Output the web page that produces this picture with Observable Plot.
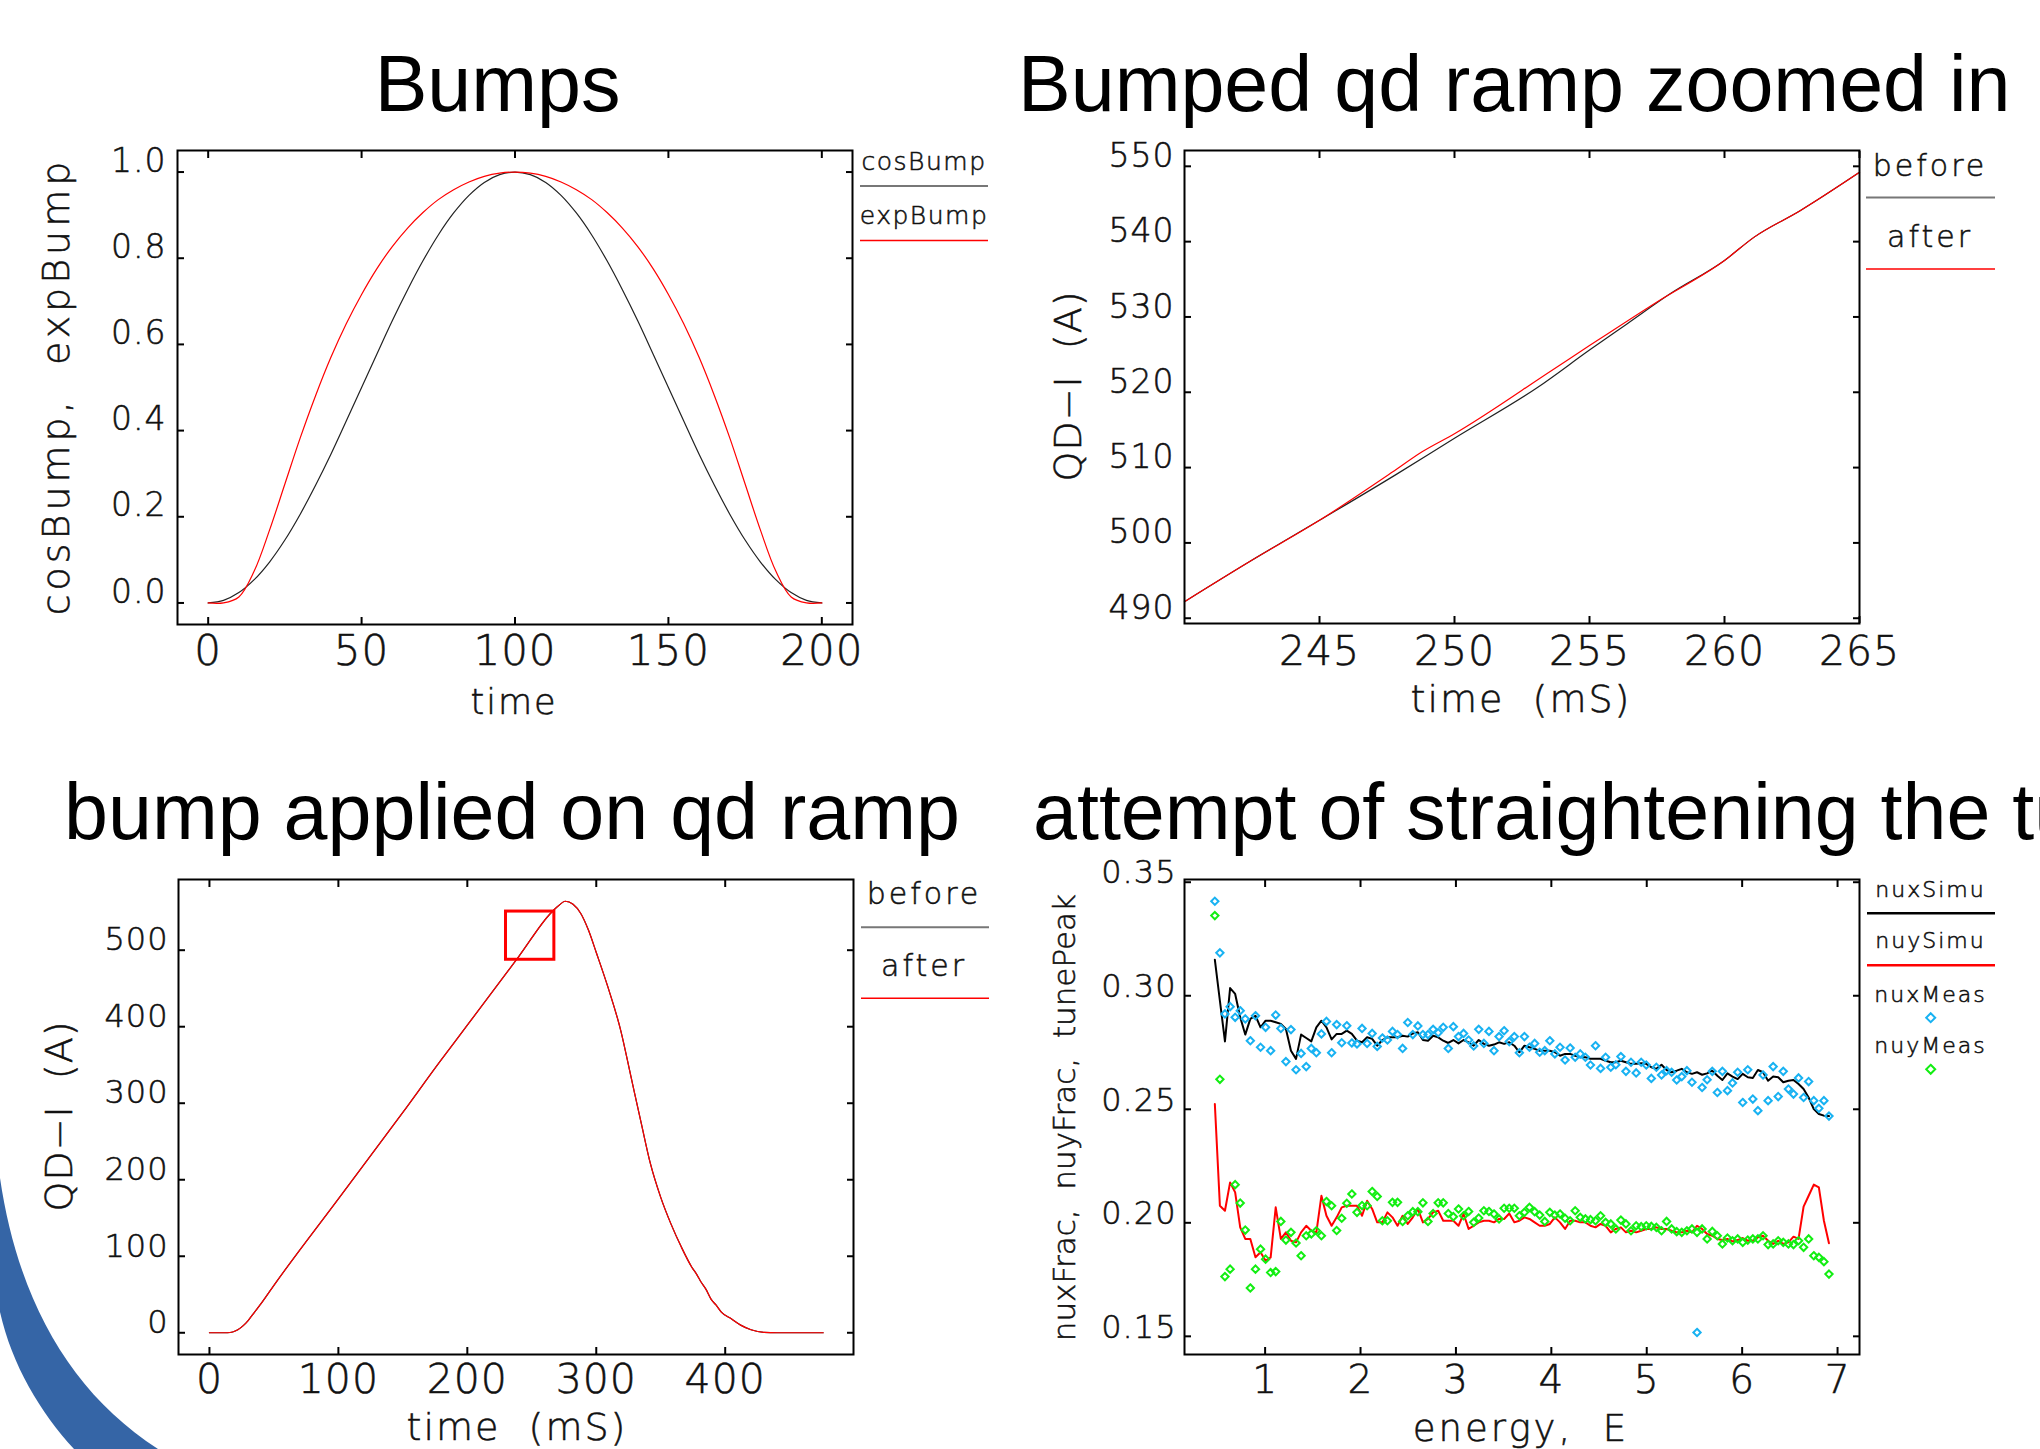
<!DOCTYPE html>
<html>
<head>
<meta charset="utf-8">
<script src="https://cdn.jsdelivr.net/npm/d3@7"></script>
<script src="https://cdn.jsdelivr.net/npm/@observablehq/plot@0.6"></script>
<style>
html, body { margin: 0; padding: 0; background: #fff; }
#page { position: relative; width: 2040px; height: 1449px; overflow: hidden; background: #fff; }
#page svg { position: absolute; }
#page svg.thin text, #page text.thin { font-weight: 200; stroke: #111; stroke-width: 0.55px; }
</style>
</head>
<body>
<div id="page"></div>
<script>
// ---------------- DATA ----------------
// Panel 1: Bumps
const bumpTime = [0,5,10,15,20,25,30,35,40,45,50,55,60,65,70,75,80,85,90,95,100,105,110,115,120,125,130,135,140,145,150,155,160,165,170,175,180,185,190,195,200];
const cosBump = [0,0.006,0.024,0.054,0.095,0.146,0.206,0.273,0.345,0.422,0.5,0.578,0.655,0.727,0.794,0.854,0.905,0.946,0.976,0.994,1.0,0.994,0.976,0.946,0.905,0.854,0.794,0.727,0.655,0.578,0.5,0.422,0.345,0.273,0.206,0.146,0.095,0.054,0.024,0.006,0];
const expBump = [0,0.0002,0.014,0.074,0.169,0.276,0.383,0.481,0.570,0.648,0.716,0.776,0.827,0.870,0.906,0.936,0.959,0.977,0.990,0.9975,1.0,0.9975,0.990,0.977,0.959,0.936,0.906,0.870,0.827,0.776,0.716,0.648,0.570,0.481,0.383,0.276,0.169,0.074,0.014,0.0002,0];
const bumpXTicks = [0,50,100,150,200];
const bumpYTicks = [0,0.2,0.4,0.6,0.8,1.0];

// Panel 2: Bumped qd ramp zoomed in
const zoomAfterTime = [240,242.4,245,247.7,248.8,250,253.6,255,257.5,260,261.1,262.8,265];
const zoomAfterQd   = [492.2,497.5,503.0,509.4,512.1,514.5,522.9,526.2,532.0,537.5,540.6,544.1,549.2];
const zoomBeforeTime = [240,242.4,245,247.8,250,253.1,255,256.4,258,260,261.1,262.8,265];
const zoomBeforeQd   = [492.2,497.5,503.0,509.0,513.9,520.7,525.6,529.1,533.1,537.5,540.6,544.1,549.2];
const zoomXTicks = [245,250,255,260,265];
const zoomYTicks = [490,500,510,520,530,540,550];

// Panel 3: bump applied on qd ramp
const rampTime = [0,10,14,18,22,26,30,35,40,50,100,150,179,200,240,265,270,276,282,288,294,300,309,319,327,335,342,350,358,366,374,378,381,385,389,393,397,405,412,420,430,440,476];
const rampQd   = [0,0,0,1,4,9,16,27,38,62,175,288,355,402,492,549,557,564,560,548,526,497,452,395,334,273,221,177,142,112,86,76,67,57,44,36,27,18,10,4,0.5,0,0];
const zoomBox = [{x1: 230, x2: 267.5, y1: 487.5, y2: 550.5}];
const rampXTicks = [0,100,200,300,400];
const rampYTicks = [0,100,200,300,400,500];

// Panel 4: tunes vs energy
const energy = [0.473,0.526,0.579,0.633,0.686,0.739,0.792,0.845,0.899,0.952,1.005,1.058,1.111,1.165,1.218,1.271,1.324,1.377,1.431,1.484,1.537,1.590,1.643,1.697,1.750,1.803,1.856,1.909,1.963,2.016,2.069,2.122,2.175,2.229,2.282,2.335,2.388,2.441,2.495,2.548,2.601,2.654,2.707,2.761,2.814,2.867,2.920,2.973,3.027,3.080,3.133,3.186,3.239,3.293,3.346,3.399,3.452,3.505,3.559,3.612,3.665,3.718,3.771,3.825,3.878,3.931,3.984,4.037,4.091,4.144,4.197,4.250,4.303,4.357,4.410,4.463,4.516,4.569,4.623,4.676,4.729,4.782,4.835,4.889,4.942,4.995,5.048,5.101,5.155,5.208,5.261,5.314,5.367,5.421,5.474,5.527,5.580,5.633,5.687,5.740,5.793,5.846,5.899,5.953,6.006,6.059,6.112,6.165,6.219,6.272,6.325,6.378,6.431,6.485,6.538,6.591,6.644,6.697,6.751,6.804,6.857,6.910];
const nuxSimu = [0.3159,0.2978,0.2799,0.3034,0.3008,0.2905,0.2829,0.2898,0.2912,0.2861,0.2890,0.2890,0.2883,0.2876,0.2854,0.2758,0.2722,0.2829,0.2814,0.2799,0.2861,0.2890,0.2861,0.2808,0.2832,0.2832,0.2846,0.2832,0.2802,0.2795,
0.2817,0.2810,0.2780,0.2805,0.2817,0.2817,0.2817,0.2824,0.2820,0.2834,0.2839,0.2805,0.2802,0.2824,0.2817,0.2802,0.2792,0.2805,0.2790,0.2805,0.2795,0.2780,0.2805,0.2788,0.2780,0.2785,0.2795,0.2788,0.2795,0.2780,0.2751,0.2780,0.2773,
0.2766,0.2758,0.2758,0.2758,0.2751,0.2736,0.2744,0.2744,0.2736,0.2729,0.2729,0.2722,0.2722,0.2722,0.2714,0.2707,0.2707,0.2714,0.2707,0.2700,0.2700,0.2703,0.2700,0.2685,0.2678,0.2696,0.2673,0.2663,0.2670,0.2678,0.2663,0.2656,
0.2663,0.2652,0.2658,0.2670,0.2648,0.2629,0.2658,0.2644,0.2633,0.2656,0.2641,0.2638,0.2673,0.2663,0.2626,0.2644,0.2641,0.2619,0.2626,0.2629,0.2611,0.2589,0.2552,0.2501,0.2479,0.2472,0.2470];
const nuySimu = [0.2523,0.2075,0.2053,0.2178,0.2134,0.1980,0.1929,0.1929,0.1848,0.1870,0.1833,0.1848,0.2068,0.1929,0.1958,0.1921,0.1914,0.1958,0.1987,0.1965,0.1958,0.2119,0.2031,0.1987,0.2024,0.2068,0.2075,0.2075,0.2075,0.2031,
0.2097,0.2061,0.2002,0.2002,0.2046,0.2024,0.1987,0.2031,0.1995,0.2024,0.2061,0.2002,0.2017,0.2046,0.2053,0.2009,0.2009,0.2009,0.1987,0.2039,0.1973,0.1987,0.2002,0.2009,0.2009,0.2002,0.2017,0.2017,0.2041,0.2002,0.2009,0.2024,0.2017,
0.2002,0.1987,0.1987,0.1995,0.2024,0.2002,0.1973,0.2009,0.2009,0.2002,0.2002,0.1987,0.1980,0.1995,0.1987,0.1958,0.1973,0.1980,0.1958,0.1965,0.1958,0.1965,0.1973,0.1973,0.1980,0.1973,0.1973,0.1965,0.1958,0.1958,0.1965,0.1958,
0.1987,0.1973,0.1951,0.1943,0.1929,0.1924,0.1929,0.1918,0.1924,0.1933,0.1921,0.1921,0.1936,0.1943,0.1921,0.1907,0.1921,0.1907,0.1914,0.1939,0.1929,0.2071,0.2119,0.2168,0.2156,0.2009,0.1910];
const nuxMeas = [0.3416,0.3189,0.2920,0.2952,0.2905,0.2934,0.2898,0.2802,0.2912,0.2773,0.2861,0.2758,0.2915,0.2856,0.2710,0.2851,0.2674,0.2746,0.2688,0.2768,0.2749,0.2832,0.2887,0.2749,0.2873,0.2793,0.2868,0.2792,0.2788,0.2856,
0.2790,0.2834,0.2777,0.2814,0.2805,0.2843,0.2829,0.2768,0.2882,0.2829,0.2867,0.2829,0.2829,0.2852,0.2837,0.2861,0.2768,0.2864,0.2820,0.2834,0.2805,0.2779,0.2852,0.2790,0.2843,0.2758,0.2820,0.2846,0.2798,0.2820,0.2749,0.2820,0.2773,
0.2790,0.2751,0.2758,0.2802,0.2744,0.2773,0.2717,0.2770,0.2729,0.2744,0.2729,0.2695,0.2780,0.2680,0.2729,0.2685,0.2696,0.2732,0.2667,0.2707,0.2660,0.2707,0.2695,0.2636,0.2685,0.2651,0.2670,0.2663,0.2629,0.2644,0.2670,0.2619,
0.1517,0.2596,0.2630,0.2667,0.2574,0.2667,0.2582,0.2616,0.2663,0.2530,0.2674,0.2545,0.2494,0.2651,0.2538,0.2688,0.2556,0.2667,0.2589,0.2567,0.2638,0.2552,0.2622,0.2538,0.2504,0.2538,0.2470];
const nuyMeas = [0.3353,0.2632,0.1763,0.1796,0.2168,0.2087,0.1968,0.1713,0.1796,0.1884,0.1840,0.1781,0.1785,0.2006,0.1924,0.1958,0.1911,0.1855,0.1943,0.1951,0.1965,0.1943,0.2094,0.2075,0.1966,0.2020,0.2086,0.2127,0.2046,0.2076,
0.2075,0.2138,0.2116,0.2009,0.2009,0.2090,0.2090,0.2006,0.2031,0.2049,0.2049,0.2088,0.2006,0.2041,0.2088,0.2088,0.2041,0.2027,0.2061,0.2031,0.2050,0.2002,0.2021,0.2053,0.2050,0.2039,0.2017,0.2064,0.2064,0.2064,0.2031,0.2046,0.2068,
0.2049,0.2034,0.2006,0.2046,0.2034,0.2039,0.2020,0.2009,0.2053,0.2024,0.2017,0.2014,0.2009,0.2031,0.2002,0.1995,0.1973,0.2012,0.1995,0.1965,0.1987,0.1983,0.1987,0.1984,0.1980,0.1965,0.2006,0.1973,0.1961,0.1958,0.1965,0.1973,
0.1958,0.1973,0.1929,0.1962,0.1943,0.1907,0.1933,0.1921,0.1929,0.1914,0.1924,0.1929,0.1929,0.1943,0.1904,0.1907,0.1921,0.1914,0.1907,0.1904,0.1921,0.1892,0.1929,0.1855,0.1848,0.1829,0.1774];
const tuneXTicks = [1,2,3,4,5,6,7];
const tuneYTicks = [0.15,0.20,0.25,0.30,0.35];

// ---------------- RENDER ----------------
const page = document.getElementById("page");
const THIN = "'DejaVu Sans', sans-serif";
const RED = "#ff0000", BLUE = "#18b2f2", GREEN = "#12ee12";

// decorative slide swoosh (background)
const deco = d3.select(page).append("svg").attr("width", 2040).attr("height", 1449).style("left", "0px").style("top", "0px");
deco.append("path").attr("d", "M0,1178 C18,1300 70,1392 158,1449 L74,1449 C40,1412 12,1365 0,1312 Z").attr("fill", "#3565a6");

function makePanel(o) {
  const svg = Plot.plot({
    width: o.w, height: o.h,
    marginLeft: o.ml, marginRight: o.mr, marginTop: o.mt, marginBottom: o.mb,
    x: {domain: o.xDomain},
    y: {domain: o.yDomain},
    style: {fontFamily: THIN, background: "transparent", color: "#000", overflow: "visible", maxWidth: "none", letterSpacing: "1px"},
    marks: [
      ...o.marks,
      Plot.frame({stroke: "#000", strokeWidth: 2}),
      Plot.axisX({ticks: o.xTicks, anchor: "bottom", tickSize: -7, strokeWidth: 2, fill: "none", label: null}),
      Plot.axisX({ticks: o.xTicks, anchor: "top", tickSize: -7, strokeWidth: 2, fill: "none", label: null}),
      Plot.axisY({ticks: o.yTicks, anchor: "left", tickSize: -7, strokeWidth: 2, fill: "none", label: null}),
      Plot.axisY({ticks: o.yTicks, anchor: "right", tickSize: -7, strokeWidth: 2, fill: "none", label: null}),
      Plot.axisX({ticks: o.xTicks, anchor: "bottom", tickSize: 0, tickPadding: o.xPad, tickFormat: o.xFmt, fontSize: o.xFont, fill: "#111", label: null}),
      Plot.axisY({ticks: o.yTicks, anchor: "left", tickSize: 0, tickPadding: o.yPad, tickFormat: o.yFmt, fontSize: o.yFont, dy: o.yDy, fill: "#111", label: null})
    ]
  });
  svg.classList.add("thin");
  svg.style.left = o.left + "px";
  svg.style.top = o.top + "px";
  page.appendChild(svg);
}

// Panel 1
const bumpRows = bumpTime.map((t, i) => ({t, cos: cosBump[i], exp: expBump[i]}));
makePanel({
  left: 0, top: 0, w: 1020, h: 730, ml: 177, mr: 168, mt: 150, mb: 106,
  xDomain: [-10, 210], yDomain: [-0.05, 1.05], xTicks: bumpXTicks, yTicks: bumpYTicks,
  xFmt: d => String(d), yFmt: d => d.toFixed(1), xFont: 42, yFont: 33, xPad: 11, yPad: 11, yDy: -11,
  marks: [
    Plot.line(bumpRows, {x: "t", y: "cos", stroke: "#222", strokeWidth: 1.2, curve: "catmull-rom"}),
    Plot.line(bumpRows, {x: "t", y: "exp", stroke: RED, strokeWidth: 1.2, curve: "catmull-rom"})
  ]
});

// Panel 2
const zBefore = zoomBeforeTime.map((t, i) => ({t, v: zoomBeforeQd[i]}));
const zAfter = zoomAfterTime.map((t, i) => ({t, v: zoomAfterQd[i]}));
makePanel({
  left: 1020, top: 0, w: 1020, h: 730, ml: 164, mr: 181, mt: 150, mb: 107,
  xDomain: [240, 265], yDomain: [489.3, 552.1], xTicks: zoomXTicks, yTicks: zoomYTicks,
  xFmt: d => String(d), yFmt: d => String(d), xFont: 41, yFont: 33, xPad: 12, yPad: 10, yDy: -10,
  marks: [
    Plot.line(zBefore, {x: "t", y: "v", stroke: "#222", strokeWidth: 1.2, curve: "monotone-x"}),
    Plot.line(zAfter, {x: "t", y: "v", stroke: RED, strokeWidth: 1.2, curve: "monotone-x"})
  ]
});

// Panel 3
const rampRows = rampTime.map((t, i) => ({t, v: rampQd[i]}));
makePanel({
  left: 0, top: 730, w: 1020, h: 719, ml: 178, mr: 167, mt: 149, mb: 95,
  xDomain: [-24, 499.5], yDomain: [-28.4, 592.4], xTicks: rampXTicks, yTicks: rampYTicks,
  xFmt: d => String(d), yFmt: d => String(d), xFont: 41, yFont: 32, xPad: 9, yPad: 10, yDy: -10,
  marks: [
    Plot.line(rampRows, {x: "t", y: "v", stroke: "#222", strokeWidth: 1.2, curve: "monotone-x"}),
    Plot.line(rampRows, {x: "t", y: "v", stroke: RED, strokeWidth: 1.2, curve: "monotone-x"}),
    Plot.rect(zoomBox, {x1: "x1", x2: "x2", y1: "y1", y2: "y2", stroke: RED, strokeWidth: 3, fill: "none"})
  ]
});

// Panel 4
const tuneRows = energy.map((e, i) => ({e, nxs: nuxSimu[i], nys: nuySimu[i], nxm: nuxMeas[i], nym: nuyMeas[i]}));
makePanel({
  left: 1020, top: 730, w: 1020, h: 719, ml: 164, mr: 181, mt: 149, mb: 95,
  xDomain: [0.155, 7.23], yDomain: [0.142, 0.3512], xTicks: tuneXTicks, yTicks: tuneYTicks,
  xFont: 39, yFont: 32, xPad: 11, yPad: 8, yDy: -9,
  xFmt: d => String(d), yFmt: d => d.toFixed(2),
  marks: [
    Plot.line(tuneRows, {x: "e", y: "nxs", stroke: "#000", strokeWidth: 2}),
    Plot.line(tuneRows, {x: "e", y: "nys", stroke: RED, strokeWidth: 2}),
    Plot.dot(tuneRows, {x: "e", y: "nxm", symbol: "diamond2", r: 3.3, stroke: BLUE, strokeWidth: 2, fill: "none"}),
    Plot.dot(tuneRows, {x: "e", y: "nym", symbol: "diamond2", r: 3.3, stroke: GREEN, strokeWidth: 2, fill: "none"})
  ]
});

// ---------------- TEXT OVERLAY (titles, axis titles, legends) ----------------
const ov = d3.select(page).append("svg").attr("width", 2040).attr("height", 1449).style("left", "0px").style("top", "0px");
function txt(s, x, y, o = {}) {
  ov.append("text")
    .attr("class", o.family ? null : "thin")
    .attr("transform", `translate(${x},${y}) rotate(${o.rotate || 0})`)
    .attr("text-anchor", o.anchor || "middle")
    .attr("font-size", o.size || 30)
    .attr("font-family", o.family || THIN)
    .attr("font-weight", o.weight || 200)
    .attr("letter-spacing", o.ls || 0)
    .attr("fill", o.fill || "#111")
    .style("white-space", "pre")
    .text(s);
}
function hline(x1, x2, y, stroke, w) {
  ov.append("line").attr("x1", x1).attr("x2", x2).attr("y1", y).attr("y2", y).attr("stroke", stroke).attr("stroke-width", w);
}
function diamond(x, y, stroke) {
  ov.append("path").attr("d", `M${x},${y - 4.5}L${x + 4.5},${y}L${x},${y + 4.5}L${x - 4.5},${y}Z`).attr("fill", "none").attr("stroke", stroke).attr("stroke-width", 2);
}
const TITLE = "'Liberation Sans', Arial, sans-serif";
txt("Bumps", 497.6, 111, {size: 79, family: TITLE, weight: 400, fill: "#000"});
txt("Bumped qd ramp zoomed in", 1018, 111, {size: 79, family: TITLE, weight: 400, anchor: "start", fill: "#000"});
txt("bump applied on qd ramp", 512, 839, {size: 79, family: TITLE, weight: 400, fill: "#000"});
txt("attempt of straightening the tune", 1033, 839, {size: 79, family: TITLE, weight: 400, anchor: "start", fill: "#000"});

txt("cosBump,  expBump", 69, 386.5, {size: 38, rotate: -90, ls: 4});
txt("time", 514, 714, {size: 35, ls: 2});
txt("QD\u2212I  (A)", 1081, 386, {size: 38, rotate: -90, ls: 1});
txt("time  (mS)", 1521, 712, {size: 38, ls: 2});
txt("QD\u2212I  (A)", 72, 1116, {size: 38, rotate: -90, ls: 1});
txt("time  (mS)", 517, 1440, {size: 38, ls: 2});
txt("nuxFrac,  nuyFrac,  tunePeak", 1075, 1117.6, {size: 31, rotate: -90, ls: 0});
txt("energy,  E", 1521, 1441, {size: 37, ls: 3});

// legends
txt("cosBump", 924, 170, {size: 25, ls: 1.5});
hline(860, 988, 186, "#777", 2);
txt("expBump", 924, 223.5, {size: 25, ls: 1.5});
hline(860, 988, 240.5, RED, 1.5);

txt("before", 1930, 176, {size: 30, ls: 3});
hline(1866, 1995, 197.4, "#777", 2);
txt("after", 1930, 246.7, {size: 30, ls: 3});
hline(1866, 1995, 269, RED, 1.5);

txt("before", 924, 904.3, {size: 30, ls: 3});
hline(861, 989, 927.2, "#777", 2);
txt("after", 924, 976.3, {size: 30, ls: 3});
hline(861, 989, 998.3, RED, 1.5);

txt("nuxSimu", 1930.5, 896.7, {size: 22, ls: 2});
hline(1867, 1995, 913.3, "#000", 2.5);
txt("nuySimu", 1930.5, 948.3, {size: 22, ls: 2});
hline(1867, 1995, 965.3, RED, 2.5);
txt("nuxMeas", 1930.5, 1001.7, {size: 22, ls: 2});
diamond(1930.7, 1017.7, BLUE);
txt("nuyMeas", 1930.5, 1053.3, {size: 22, ls: 2});
diamond(1930.7, 1069.3, GREEN);
</script>
</body>
</html>
